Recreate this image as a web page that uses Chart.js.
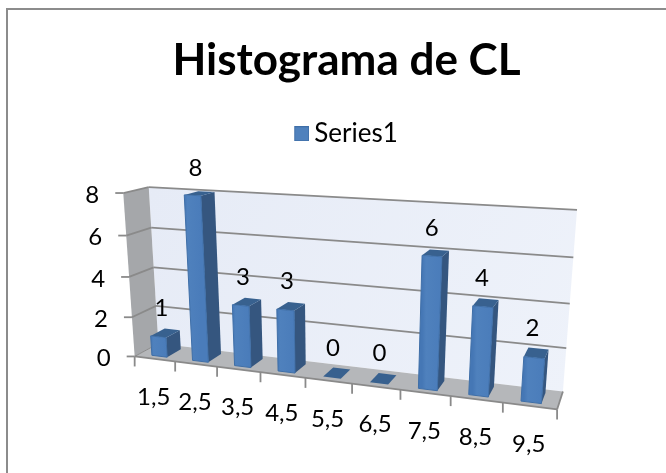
<!DOCTYPE html>
<html>
<head>
<meta charset="utf-8">
<style>
html, body { margin: 0; padding: 0; background: #fff; overflow: hidden; }
#frame { position: absolute; left: 6px; top: 8px; width: 800px; height: 600px; border-left: 2px solid #8c8c8c; border-top: 2px solid #8c8c8c; }
canvas { position: absolute; left: 0; top: 0; }
</style>
<script src="https://cdn.jsdelivr.net/npm/chart.js@4"></script>
</head>
<body>
<div id="frame"></div>
<canvas id="Chart1" width="666" height="473"></canvas>
<script>
var categories = ["1,5", "2,5", "3,5", "4,5", "5,5", "6,5", "7,5", "8,5", "9,5"];
var series1 = [1, 8, 3, 3, 0, 0, 6, 4, 2];

var FONT = "Lato, Carlito, sans-serif";

// corners of the plot box: [x, y, z] (0..1) -> where they land on the picture
var corners = [
    [[0, 0, 0], [135, 356]],
    [[1, 0, 0], [557, 410]],
    [[0, 0, 1], [158, 344]],
    [[1, 0, 1], [563, 391]],
    [[0, 1, 1], [149, 187]],
    [[1, 1, 1], [577, 210]],
    [[0, 1, 0], [123, 193]]
];

// least squares fit of the 3d -> 2d perspective matrix
function fitProjection(points) {
    var n = 11, A = [], i, j, k;
    for (i = 0; i < n; i++) { A.push(new Array(n + 1).fill(0)); }
    function add(row, val) {
        for (var a = 0; a < n; a++) {
            for (var b = 0; b < n; b++) { A[a][b] += row[a] * row[b]; }
            A[a][n] += row[a] * val;
        }
    }
    points.forEach(function(p) {
        var x = p[0][0], y = p[0][1], z = p[0][2], u = p[1][0], v = p[1][1];
        add([x, y, z, 1, 0, 0, 0, 0, -u * x, -u * y, -u * z], u);
        add([0, 0, 0, 0, x, y, z, 1, -v * x, -v * y, -v * z], v);
    });
    // tiny damping because 7 points leave the system barely determined
    for (i = 0; i < n; i++) { A[i][i] += 1e-6; }
    for (i = 0; i < n; i++) {
        var best = i;
        for (k = i + 1; k < n; k++) { if (Math.abs(A[k][i]) > Math.abs(A[best][i])) { best = k; } }
        var t = A[i]; A[i] = A[best]; A[best] = t;
        for (k = i + 1; k < n; k++) {
            var f = A[k][i] / A[i][i];
            for (j = i; j <= n; j++) { A[k][j] -= f * A[i][j]; }
        }
    }
    var p = new Array(n).fill(0);
    for (i = n - 1; i >= 0; i--) {
        var s = A[i][n];
        for (j = i + 1; j < n; j++) { s -= A[i][j] * p[j]; }
        p[i] = s / A[i][i];
    }
    return p;
}

var P = fitProjection(corners);

function project(x, y, z) {
    var w = P[8] * x + P[9] * y + P[10] * z + 1;
    return [(P[0] * x + P[1] * y + P[2] * z + P[3]) / w, (P[4] * x + P[5] * y + P[6] * z + P[7]) / w];
}

function quad(ctx, pts, fill, stroke, lw) {
    ctx.beginPath();
    pts.forEach(function(p, i) {
        var s = project(p[0], p[1], p[2]);
        if (i === 0) { ctx.moveTo(s[0], s[1]); } else { ctx.lineTo(s[0], s[1]); }
    });
    ctx.closePath();
    if (fill) { ctx.fillStyle = fill; ctx.fill(); }
    if (stroke) { ctx.strokeStyle = stroke; ctx.lineWidth = lw || 1; ctx.stroke(); }
}

function line(ctx, a, b, color, lw) {
    ctx.beginPath();
    ctx.moveTo(a[0], a[1]);
    ctx.lineTo(b[0], b[1]);
    ctx.strokeStyle = color;
    ctx.lineWidth = lw;
    ctx.stroke();
}

var BAR_Z0 = 0.2, BAR_Z1 = 0.8;

// draws the flat chart through the perspective box instead of the default bars
var box3d = {
    id: 'box3d',
    beforeDatasetsDraw: function(chart) {
        var ctx = chart.ctx, area = chart.chartArea;
        var xs = chart.scales.x, ys = chart.scales.y;
        function nx(px) { return (px - area.left) / (area.right - area.left); }
        function ny(px) { return (area.bottom - px) / (area.bottom - area.top); }

        ctx.save();
        // walls and floor
        var wall = ctx.createLinearGradient(150, 190, 570, 390);
        wall.addColorStop(0, "#e6ebf6");
        wall.addColorStop(1, "#eef2fa");
        quad(ctx, [[0, 0, 1], [1, 0, 1], [1, 1, 1], [0, 1, 1]], wall);
        quad(ctx, [[0, 0, 0], [0, 0, 1], [0, 1, 1], [0, 1, 0]], "#a5a7aa");
        quad(ctx, [[0, 0, 0], [1, 0, 0], [1, 0, 1], [0, 0, 1]], "#b5b7ba");

        // gridlines, y ticks and y labels
        ctx.font = "24px " + FONT;
        ctx.textAlign = "center";
        ctx.textBaseline = "middle";
        ys.ticks.forEach(function(t) {
            var v = ny(ys.getPixelForValue(t.value));
            var a = project(0, v, 0), b = project(0, v, 1), c = project(1, v, 1);
            if (t.value > 0) {
                line(ctx, a, b, "#8a8a8a", 1.8);
                line(ctx, b, c, "#8a8a8a", 1.8);
            }
            line(ctx, a, [a[0] - 8, a[1]], "#8a8a8a", 1.8);
            ctx.fillStyle = "#000";
            ctx.fillText(t.label, a[0] - 31, a[1] + 2);
        });

        // floor front edge with x ticks
        line(ctx, project(0, 0, 0), project(1, 0, 0), "#8a8a8a", 1.8);
        line(ctx, project(1, 0, 0), project(1, 0, 1), "#8a8a8a", 1.8);
        line(ctx, project(0, 0, 0), project(0, 0, 1), "#8a8a8a", 1);
        var count = categories.length;
        for (var i = 0; i <= count; i++) {
            var e = project(i / count, 0, 0);
            line(ctx, e, [e[0], e[1] + 10], "#8a8a8a", 1.8);
        }

        // bars, left to right
        var bars = chart.getDatasetMeta(0).data;
        bars.forEach(function(bar, i) {
            var x0 = nx(bar.x - bar.width / 2), x1 = nx(bar.x + bar.width / 2);
            var top = ny(bar.y), z0 = BAR_Z0, z1 = BAR_Z1;
            if (top > 0) {
                quad(ctx, [[x1, 0, z0], [x1, 0, z1], [x1, top, z1], [x1, top, z0]], "#35567f");
            }
            quad(ctx, [[x0, top, z0], [x1, top, z0], [x1, top, z1], [x0, top, z1]], "#38618f");
            if (top > 0) {
                var fa = project(x0, top, z0), fb = project(x1, top, z0);
                var grad = ctx.createLinearGradient(fa[0], 0, fb[0], 0);
                grad.addColorStop(0, "#4577b5");
                grad.addColorStop(0.2, "#4f81bd");
                grad.addColorStop(1, "#4a7cba");
                quad(ctx, [[x0, 0, z0], [x1, 0, z0], [x1, top, z0], [x0, top, z0]], grad, "#3f6fa8", 1);
            }
        });

        // value labels above the bars and category labels under the floor
        ctx.fillStyle = "#000";
        bars.forEach(function(bar, i) {
            var c = nx(bar.x);
            var s = project(c, ny(bar.y), 0.5);
            ctx.fillText(String(series1[i]), s[0] - 4, s[1] - 25);
            var b = project(c, 0, 0);
            ctx.fillText(xs.getLabelForValue(i), b[0] - 1, b[1] + 38);
        });
        ctx.restore();
        return false;
    }
};

// legend swatch sits close to its text, so it is pushed right inside a wider image
var swatch = document.createElement('canvas');
swatch.width = 22;
swatch.height = 15;
var sw = swatch.getContext('2d');
sw.fillStyle = "#4f81bd";
sw.fillRect(7, 0, 15, 15);
sw.strokeStyle = "#3f6fa8";
sw.strokeRect(7.5, 0.5, 14, 14);

new Chart(document.getElementById("Chart1").getContext('2d'), {
    type: 'bar',
    data: {
        labels: categories,
        datasets: [{
            label: 'Series1',
            data: series1,
            backgroundColor: "#4f81bd",
            borderColor: "#3f6fa8",
            borderWidth: 1,
            barPercentage: 0.38,
            categoryPercentage: 1
        }]
    },
    options: {
        responsive: false,
        animation: false,
        layout: { padding: { left: 27 } },
        scales: {
            x: { display: false },
            y: { display: false, min: 0, max: 8, ticks: { stepSize: 2 } }
        },
        plugins: {
            tooltip: { enabled: false },
            title: {
                display: true,
                text: 'Histograma de CL',
                color: '#000',
                font: { family: FONT, size: 44, weight: 'bold' },
                padding: { top: 34, bottom: 30 }
            },
            legend: {
                display: true,
                position: 'top',
                labels: {
                    color: '#000',
                    usePointStyle: true,
                    pointStyle: swatch,
                    pointStyleWidth: 6,
                    padding: 4,
                    font: { family: FONT, size: 26 }
                }
            }
        }
    },
    plugins: [box3d]
});
</script>
</body>
</html>
